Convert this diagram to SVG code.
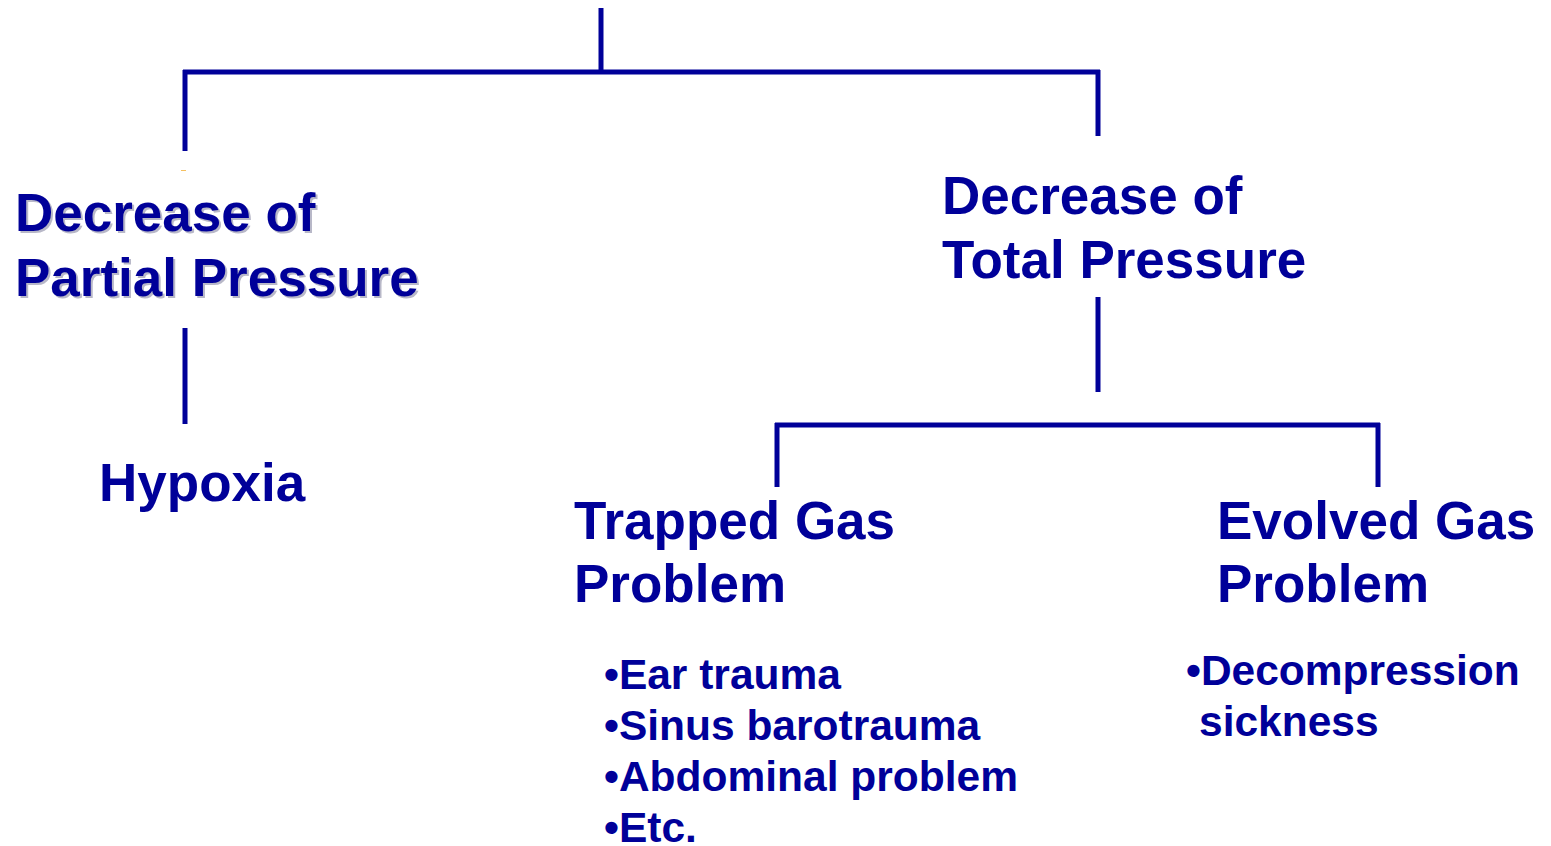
<svg xmlns="http://www.w3.org/2000/svg" width="1551" height="846" viewBox="0 0 1551 846">
<style>
.c{stroke:#000099;stroke-width:5;fill:none;stroke-linecap:butt}
.t{font-family:"Liberation Sans",Arial,sans-serif;font-weight:bold;fill:#000099}
.h{font-size:53px}
.b{font-size:42.5px}
.s{fill:#b8b8c8}
</style>
<rect width="1551" height="846" fill="#ffffff"/>
<g id="connectors">
<line class="c" x1="601" y1="8" x2="601" y2="72"/>
<line class="c" x1="183" y1="72" x2="1100" y2="72"/>
<line class="c" x1="185" y1="70" x2="185" y2="151"/>
<line class="c" x1="1098" y1="70" x2="1098" y2="136"/>
<line class="c" x1="185" y1="328" x2="185" y2="424"/>
<line class="c" x1="1098" y1="297" x2="1098" y2="392"/>
<line class="c" x1="775" y1="425" x2="1380" y2="425"/>
<line class="c" x1="777" y1="423" x2="777" y2="487"/>
<line class="c" x1="1378" y1="423" x2="1378" y2="487"/>
<line x1="181" y1="170.5" x2="186" y2="170.5" stroke="#f5c060" stroke-width="1"/>
</g>
<g id="partial">
<text class="t h s" x="17" y="233">Decrease of</text>
<text class="t h s" x="17" y="298">Partial Pressure</text>
<text class="t h" x="15" y="231">Decrease of</text>
<text class="t h" x="15" y="296">Partial Pressure</text>
</g>
<g id="total">
<text class="t h" x="942" y="214">Decrease of</text>
<text class="t h" x="942" y="278">Total Pressure</text>
</g>
<g id="hypoxia">
<text class="t h" x="99" y="501">Hypoxia</text>
</g>
<g id="trapped">
<text class="t h" x="574" y="539">Trapped Gas</text>
<text class="t h" x="574" y="602">Problem</text>
<text class="t b" x="604" y="689">•Ear trauma</text>
<text class="t b" x="604" y="740">•Sinus barotrauma</text>
<text class="t b" x="604" y="791">•Abdominal problem</text>
<text class="t b" x="604" y="842">•Etc.</text>
</g>
<g id="evolved">
<text class="t h" x="1217" y="539">Evolved Gas</text>
<text class="t h" x="1217" y="602">Problem</text>
<text class="t b" x="1186" y="685">•Decompression</text>
<text class="t b" x="1199" y="736">sickness</text>
</g>
</svg>
